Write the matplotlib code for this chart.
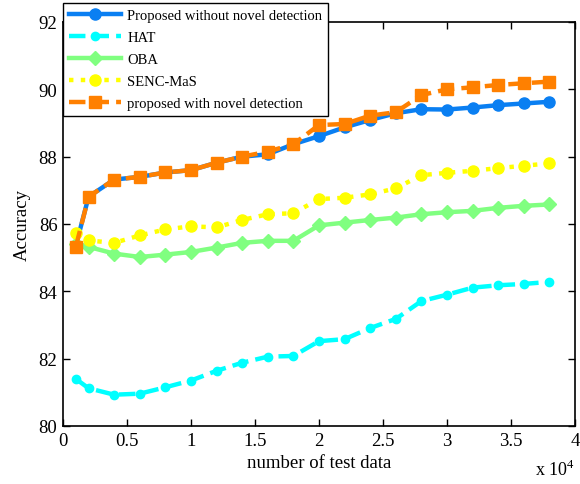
import numpy as np
import matplotlib
matplotlib.use('Agg')
from matplotlib import pyplot as plt

# number of test data (raw counts, axis shown in units of 1e4)
n_test = [1000, 2000, 4000, 6000, 8000, 10000, 12000, 14000, 16000, 18000,
          20000, 22000, 24000, 26000, 28000, 30000, 32000, 34000, 36000, 38000]

acc_prop_nonovel = [85.35, 86.81, 87.32, 87.40, 87.53, 87.60, 87.82, 88.00, 88.07, 88.37,
                    88.61, 88.87, 89.09, 89.29, 89.41, 89.40, 89.46, 89.53, 89.58, 89.63]
acc_hat = [81.40, 81.12, 80.93, 80.96, 81.15, 81.35, 81.64, 81.88, 82.06, 82.08,
           82.52, 82.58, 82.91, 83.18, 83.71, 83.90, 84.11, 84.18, 84.22, 84.28]
acc_oba = [85.42, 85.32, 85.12, 85.02, 85.09, 85.17, 85.30, 85.44, 85.50, 85.50,
           85.96, 86.04, 86.12, 86.19, 86.29, 86.35, 86.39, 86.48, 86.54, 86.58]
acc_senc = [85.73, 85.51, 85.44, 85.66, 85.84, 85.93, 85.90, 86.12, 86.29, 86.32,
            86.74, 86.78, 86.88, 87.06, 87.45, 87.52, 87.58, 87.66, 87.73, 87.80]
acc_prop_novel = [85.32, 86.81, 87.32, 87.40, 87.53, 87.60, 87.82, 88.00, 88.15, 88.37,
                  88.94, 88.97, 89.22, 89.32, 89.83, 90.00, 90.06, 90.13, 90.18, 90.23]

xticks = [0, 0.5, 1, 1.5, 2, 2.5, 3, 3.5, 4]
xticklabels = ['0', '0.5', '1', '1.5', '2', '2.5', '3', '3.5', '4']
yticks = [80, 82, 84, 86, 88, 90, 92]

plt.rcParams['font.family'] = ['Liberation Serif', 'DejaVu Serif']
plt.rcParams['mathtext.fontset'] = 'custom'
plt.rcParams['mathtext.rm'] = 'Liberation Serif'

x = np.array(n_test) / 1e4

fig = plt.figure(figsize=[5.8, 4.85], dpi=100)
ax = fig.add_axes([63/580, 1-427/485, 512/580, 404/485])

ax.plot(x, acc_prop_nonovel, '-o', color='#0A7FF2', lw=3.2, ms=8, label='Proposed without novel detection')
ax.plot(x, acc_hat, '--o', color='#00FFFF', lw=3.2, ms=6, label='HAT')
ax.plot(x, acc_oba, '-D', color='#80FF80', lw=3.2, ms=7, label='OBA')
ax.plot(x, acc_senc, ':o', color='#FFFF00', lw=3.2, ms=8, label='SENC-MaS')
ax.plot(x, acc_prop_novel, '--s', color='#FF8000', lw=3.2, ms=9, label='proposed with novel detection')

ax.set_xlim(0, 4)
ax.set_ylim(80, 92)
ax.set_xticks(xticks)
ax.set_xticklabels(xticklabels)
ax.set_yticks(yticks)
ax.tick_params(direction='in', top=True, right=True, length=5, width=1, labelsize=13.5, pad=4)
for s in ax.spines.values():
    s.set_linewidth(1.2)

ax.set_xlabel('number of test data', fontsize=13.5, labelpad=4)
ax.set_ylabel('Accuracy', fontsize=13.5, labelpad=6)
fig.text(575/580, 1-476/485, r'x 10$^{4}$', ha='right', va='baseline', fontsize=13)

leg = ax.legend(loc='upper left', bbox_to_anchor=(63/580, 1-4/485), bbox_transform=fig.transFigure,
                fontsize=10.5, frameon=True, fancybox=False, edgecolor='black', framealpha=1,
                borderaxespad=0, handlelength=3.6, labelspacing=0.6, borderpad=0.4, handletextpad=0.4)
leg.get_frame().set_linewidth(1.0)

fig.savefig('out.png', dpi=100)
